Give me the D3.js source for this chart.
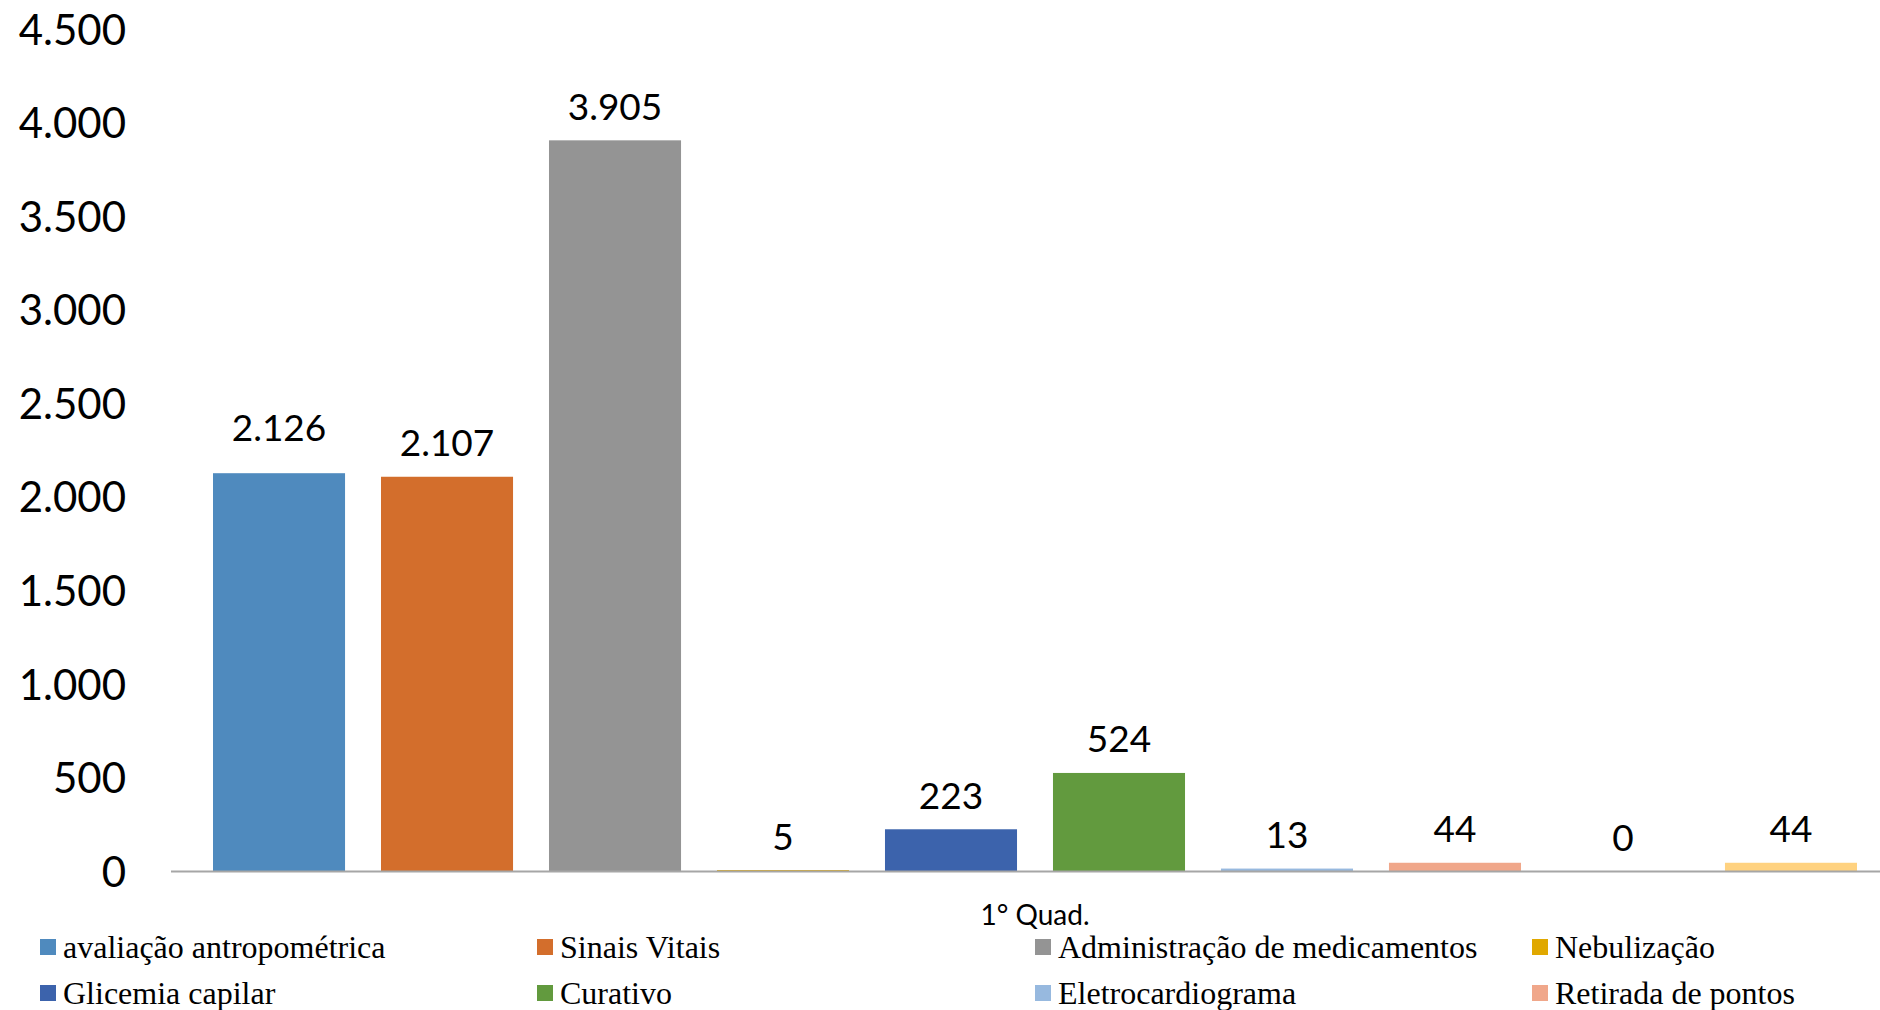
<!DOCTYPE html>
<html>
<head>
<meta charset="utf-8">
<script src="https://cdn.jsdelivr.net/npm/d3@7"></script>
<style>
  html, body { margin: 0; padding: 0; background: #fff; overflow: hidden; }
  svg { display: block; }
</style>
</head>
<body>
<svg id="chart" width="1880" height="1010"></svg>
<script>
// ---- data ----
const category = "1° Quad.";
const seriesNames = [
  "avaliação antropométrica", "Sinais Vitais", "Administração de medicamentos", "Nebulização",
  "Glicemia capilar", "Curativo", "Eletrocardiograma", "Retirada de pontos",
  "Série 9", "Série 10"
];
const seriesValues = [2126, 2107, 3905, 5, 223, 524, 13, 44, 0, 44];
const seriesColors = [
  "#4F8ABE", "#D36E2C", "#949494", "#E0A800",
  "#3C63AC", "#629A3E", "#97B9DF", "#F0A78A",
  "#7F7F7F", "#FFD280"
];
const legendVisibleCount = 8;
const yTicks = [0, 500, 1000, 1500, 2000, 2500, 3000, 3500, 4000, 4500];

// ---- layout ----
const svg = d3.select("#chart");
const axisLeft = 171, axisRight = 1899;
const yBase = 871, yTop = 29;

const fmt = v => d3.format(",")(v).replace(/,/g, ".");

const x = d3.scaleBand()
  .domain(seriesNames)
  .range([axisLeft, axisRight])
  .paddingInner(0.214)
  .paddingOuter(0.25);

const y = d3.scaleLinear().domain([0, 4500]).range([yBase, yTop]);

const data = seriesNames.map((n, i) => ({ name: n, value: seriesValues[i], color: seriesColors[i] }));

// bars
svg.append("g").selectAll("rect").data(data).join("rect")
  .attr("x", d => x(d.name))
  .attr("y", d => y(d.value))
  .attr("width", x.bandwidth())
  .attr("height", d => y(0) - y(d.value))
  .attr("fill", d => d.color);

// y axis labels (no line, no ticks)
const yAxis = d3.axisLeft(y).tickValues(yTicks).tickFormat(fmt).tickSize(0).tickPadding(0);
const yg = svg.append("g").attr("transform", `translate(126,0)`).call(yAxis);
yg.select(".domain").remove();
yg.selectAll("text")
  .attr("font-family", "Lato, 'Open Sans', sans-serif")
  .attr("font-size", 42)
  .attr("fill", "#000")
  .attr("dy", "0.36em");

// x axis line
svg.append("line")
  .attr("x1", axisLeft).attr("x2", 1880)
  .attr("y1", yBase + 0.5).attr("y2", yBase + 0.5)
  .attr("stroke", "#A6A6A6").attr("stroke-width", 2);

// category label
svg.append("text")
  .attr("x", (axisLeft + axisRight) / 2)
  .attr("y", 914)
  .attr("text-anchor", "middle")
  .attr("dominant-baseline", "central")
  .attr("font-family", "Lato, 'Open Sans', sans-serif")
  .attr("font-size", 28)
  .attr("fill", "#000")
  .text(category);

// data labels
svg.append("g").selectAll("text").data(data).join("text")
  .attr("x", d => x(d.name) + x.bandwidth() / 2)
  .attr("y", (d, i) => y(d.value) - 35 - (i === 0 ? 12 : 0))
  .attr("text-anchor", "middle")
  .attr("dominant-baseline", "central")
  .attr("font-family", "Lato, 'Open Sans', sans-serif")
  .attr("font-size", 37)
  .attr("fill", "#000")
  .text(d => fmt(d.value));

// legend
const legendCols = [40, 537, 1035, 1532];
const legendRows = [947, 993];
const lg = svg.append("g");
data.slice(0, legendVisibleCount).forEach((d, i) => {
  const cx = legendCols[i % 4];
  const cy = legendRows[Math.floor(i / 4)];
  lg.append("rect")
    .attr("x", cx).attr("y", cy - 8)
    .attr("width", 16).attr("height", 16)
    .attr("fill", d.color);
  lg.append("text")
    .attr("x", cx + 23).attr("y", cy)
    .attr("dominant-baseline", "central")
    .attr("font-family", "'Liberation Serif', 'Times New Roman', serif")
    .attr("font-size", 32)
    .attr("fill", "#000")
    .text(d.name);
});
</script>
</body>
</html>
